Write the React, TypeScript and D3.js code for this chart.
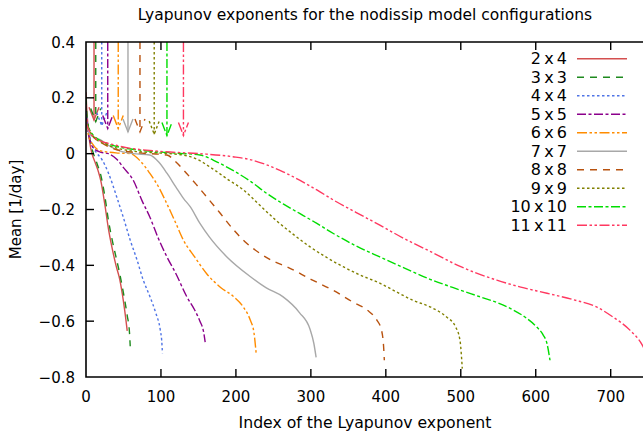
import { useEffect, useRef } from 'react'
import * as d3 from 'd3'

type Pt = [number, number]

// configuration labels (legend order)
const configs = ['2x4', '3x3', '4x4', '5x5', '6x6', '7x7', '8x8', '9x9', '10x10', '11x11']

// mean Lyapunov exponent vs index
const s2x4: Pt[] = [[0, 0.22], [1, 0.16], [3, 0.09], [5, 0.04], [8, 0.0], [12, -0.03], [16, -0.06], [20, -0.1], [25, -0.18], [30, -0.27], [35, -0.34], [40, -0.4], [45, -0.45], [50, -0.53], [53, -0.59], [55, -0.635]]
const s3x3: Pt[] = [[0, 0.2], [1, 0.15], [3, 0.1], [6, 0.04], [10, 0.0], [14, -0.03], [20, -0.08], [25, -0.15], [30, -0.24], [35, -0.31], [40, -0.37], [45, -0.43], [50, -0.5], [55, -0.58], [58, -0.64], [59, -0.69]]
const s4x4: Pt[] = [[0, 0.15], [2, 0.1], [5, 0.06], [10, 0.02], [15, 0.0], [21, -0.02], [30, -0.07], [41, -0.155], [50, -0.23], [59, -0.31], [68, -0.38], [76, -0.45], [85, -0.51], [93, -0.57], [99, -0.63], [101, -0.67], [102, -0.715]]
const s5x5: Pt[] = [[0, 0.13], [2, 0.09], [5, 0.05], [10, 0.02], [20, 0.005], [30, 0.0], [41, -0.02], [50, -0.05], [63, -0.095], [75, -0.17], [85, -0.226], [96, -0.3], [108, -0.37], [120, -0.43], [134, -0.51], [145, -0.56], [152, -0.6], [157, -0.64], [159, -0.675]]
const s6x6: Pt[] = [[0, 0.12], [3, 0.07], [10, 0.03], [20, 0.01], [40, 0.003], [59, 0.0], [72, -0.025], [85, -0.07], [97, -0.12], [108, -0.18], [120, -0.25], [130, -0.31], [145, -0.37], [161, -0.43], [180, -0.48], [196, -0.51], [210, -0.55], [219, -0.595], [224, -0.64], [227, -0.715]]
const s7x7: Pt[] = [[0, 0.11], [5, 0.07], [10, 0.06], [19, 0.05], [30, 0.03], [45, 0.01], [63, 0.0], [85, -0.005], [97, -0.03], [108, -0.07], [120, -0.12], [130, -0.16], [139, -0.19], [152, -0.25], [165, -0.3], [188, -0.37], [219, -0.44], [240, -0.48], [263, -0.513], [285, -0.57], [299, -0.63], [304, -0.68], [307, -0.73]]
const s8x8: Pt[] = [[0, 0.11], [10, 0.06], [20, 0.04], [40, 0.015], [70, 0.003], [108, -0.005], [120, -0.03], [134, -0.07], [147, -0.11], [161, -0.155], [178, -0.21], [196, -0.27], [214, -0.32], [232, -0.357], [250, -0.385], [268, -0.405], [300, -0.45], [330, -0.49], [355, -0.53], [375, -0.56], [388, -0.596], [394, -0.63], [397, -0.69], [398, -0.74]]
const s9x9: Pt[] = [[0, 0.11], [10, 0.06], [30, 0.03], [60, 0.01], [100, 0.002], [130, -0.005], [148, -0.02], [165, -0.047], [188, -0.09], [210, -0.13], [232, -0.185], [254, -0.24], [277, -0.29], [299, -0.334], [320, -0.37], [343, -0.405], [366, -0.435], [392, -0.464], [414, -0.495], [436, -0.525], [460, -0.55], [481, -0.585], [493, -0.62], [499, -0.67], [502, -0.77]]
const s10x10: Pt[] = [[0, 0.11], [10, 0.065], [30, 0.035], [80, 0.01], [120, 0.002], [152, -0.005], [175, -0.03], [196, -0.06], [220, -0.1], [241, -0.142], [263, -0.18], [285, -0.214], [308, -0.25], [330, -0.286], [360, -0.33], [392, -0.37], [425, -0.41], [459, -0.45], [490, -0.48], [526, -0.513], [550, -0.535], [570, -0.56], [588, -0.59], [601, -0.62], [610, -0.65], [615, -0.68], [619, -0.74]]
const s11x11: Pt[] = [[0, 0.11], [10, 0.06], [40, 0.03], [100, 0.008], [152, 0.0], [196, -0.011], [220, -0.022], [241, -0.04], [263, -0.065], [285, -0.095], [308, -0.13], [330, -0.166], [360, -0.21], [392, -0.256], [425, -0.305], [459, -0.35], [500, -0.405], [548, -0.453], [580, -0.478], [615, -0.5], [650, -0.523], [681, -0.549], [703, -0.585], [726, -0.633], [742, -0.685], [750, -0.73]]
const series = [s2x4, s3x3, s4x4, s5x5, s6x6, s7x7, s8x8, s9x9, s10x10, s11x11]

// arrows marking each configuration (index, tip value)
const arrowX = [10.7, 13, 21, 29, 43, 56, 72, 91, 108, 130]
const arrowTip = [0.12, 0.115, 0.1, 0.09, 0.09, 0.078, 0.078, 0.07, 0.065, 0.065]

const xTicks = [0, 100, 200, 300, 400, 500, 600, 700]
const yTicks = [0.4, 0.2, 0, -0.2, -0.4, -0.6, -0.8]

const colors = ['#d44f4f', '#1e8a1e', '#4f74e6', '#8b008b', '#ff8c00', '#a8a8a8', '#b8520f', '#808000', '#00dd00', '#ff3860']
const dashes = ['none', '7,6', '2.5,2.5', '9,2.5,3,2.5', '10,2.5,2.5,2.5,2.5,2.5', 'none', '7,6', '2.5,2.5', '9,2.5,3,2.5', '10,2.5,2.5,2.5,2.5,2.5']

const W = 643
const H = 434
const FONT = '"DejaVu Sans", sans-serif'

const App = () => {
  const svgRef = useRef<SVGSVGElement>(null)

  useEffect(() => {
    if (!svgRef.current) return
    d3.select(svgRef.current).selectAll('*').remove()

    const left = 86
    const top = 42
    const bottom = 377
    const right = 660 // frame runs off the picture

    const x = d3.scaleLinear().domain([0, 700]).range([left, 610.7])
    const y = d3.scaleLinear().domain([-0.8, 0.4]).range([bottom, top])

    const svg = d3.select(svgRef.current)

    svg.append('defs').append('clipPath').attr('id', 'plot-clip')
      .append('rect').attr('x', left).attr('y', top).attr('width', right - left).attr('height', bottom - top)

    // title
    svg.append('text')
      .attr('x', 365).attr('y', 20)
      .attr('text-anchor', 'middle')
      .style('font-family', FONT).style('font-size', '15.5px')
      .text('Lyapunov exponents for the nodissip model configurations')

    const plot = svg.append('g').attr('clip-path', 'url(#plot-clip)')

    const line = d3.line<Pt>()
      .x(d => x(d[0]))
      .y(d => y(d[1]))
      .curve(d3.curveMonotoneX)

    series.forEach((s, i) => {
      plot.append('path')
        .attr('d', line(s))
        .attr('fill', 'none')
        .attr('stroke', colors[i])
        .attr('stroke-width', 1.4)
        .attr('stroke-dasharray', dashes[i])
    })

    // arrows
    arrowX.forEach((ax, i) => {
      const px = x(ax)
      const tip = y(arrowTip[i])
      const g = plot.append('g')
        .attr('fill', 'none')
        .attr('stroke', colors[i])
        .attr('stroke-width', 1.4)
        .attr('stroke-dasharray', dashes[i])
      g.append('line').attr('x1', px).attr('y1', top).attr('x2', px).attr('y2', tip)
      g.append('path').attr('d', `M${px - 5},${tip - 13}L${px},${tip}L${px + 5},${tip - 13}`)
    })

    // frame
    svg.append('path')
      .attr('d', `M${right},${top}H${left}V${bottom}H${right}`)
      .attr('fill', 'none').attr('stroke', '#000').attr('stroke-width', 1.6)

    // ticks (inward, mirrored on top)
    xTicks.forEach(t => {
      const px = x(t)
      if (t > 0) {
        svg.append('line').attr('x1', px).attr('x2', px).attr('y1', bottom).attr('y2', bottom - 8).attr('stroke', '#000').attr('stroke-width', 1.4)
        svg.append('line').attr('x1', px).attr('x2', px).attr('y1', top).attr('y2', top + 8).attr('stroke', '#000').attr('stroke-width', 1.4)
      }
      svg.append('text')
        .attr('x', px).attr('y', 402)
        .attr('text-anchor', 'middle')
        .style('font-family', FONT).style('font-size', '15px')
        .text(d3.format('d')(t))
    })

    yTicks.forEach(t => {
      const py = y(t)
      if (t !== 0.4 && t !== -0.8) {
        svg.append('line').attr('x1', left).attr('x2', left + 8).attr('y1', py).attr('y2', py).attr('stroke', '#000').attr('stroke-width', 1.4)
      }
      svg.append('text')
        .attr('x', 75).attr('y', py + 5.5)
        .attr('text-anchor', 'end')
        .style('font-family', FONT).style('font-size', '15px')
        .text(t === 0 ? '0' : d3.format('.1f')(t))
    })

    // axis labels
    svg.append('text')
      .attr('x', 365).attr('y', 428)
      .attr('text-anchor', 'middle')
      .style('font-family', FONT).style('font-size', '15.7px')
      .text('Index of the Lyapunov exponent')

    svg.append('text')
      .attr('transform', `translate(21,${(top + bottom) / 2}) rotate(-90)`)
      .attr('text-anchor', 'middle')
      .style('font-family', FONT).style('font-size', '15px')
      .text('Mean [1/day]')

    // legend
    configs.forEach((c, i) => {
      const ly = 58.7 + i * 18.5
      svg.append('text')
        .attr('x', 567).attr('y', ly + 5.5)
        .attr('text-anchor', 'end')
        .style('font-family', FONT).style('font-size', '16px')
        .text(c.replace('x', '\u2009x\u2009'))
      svg.append('line')
        .attr('x1', 577).attr('x2', 627).attr('y1', ly).attr('y2', ly)
        .attr('stroke', colors[i])
        .attr('stroke-width', 1.4)
        .attr('stroke-dasharray', dashes[i])
    })
  }, [])

  return (
    <div style={{ position: 'fixed', left: 0, top: 0, background: '#fff' }}>
      <svg ref={svgRef} width={W} height={H} style={{ display: 'block' }} />
    </div>
  )
}

export default App
